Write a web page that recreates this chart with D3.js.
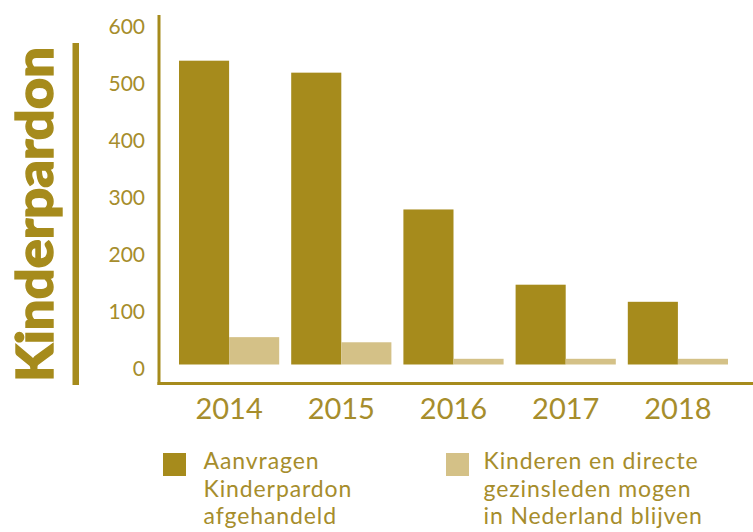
<!DOCTYPE html>
<html>
<head>
<meta charset="utf-8">
<script src="https://cdn.jsdelivr.net/npm/d3@7/dist/d3.min.js"></script>
<style>
  html, body { margin: 0; padding: 0; background: #ffffff; }
  svg { display: block; }
</style>
</head>
<body>
<svg id="chart" width="753" height="532"></svg>
<script>
// ---- data ----
const years = ["2014", "2015", "2016", "2017", "2018"];
const aanvragen = [533, 512, 272, 140, 110];
const blijven = [48, 39, 10, 10, 10];
const yTicks = [0, 100, 200, 300, 400, 500, 600];
const seriesNames = ["Aanvragen|Kinderpardon|afgehandeld", "Kinderen en directe|gezinsleden mogen|in Nederland blijven"];
const title = "Kinderpardon";

// ---- style ----
const darkCol = "#a68b1c";
const lightCol = "#d4c187";
const textCol = "#a68d2c";
const font = "Lato, 'Noto Sans', sans-serif";

const svg = d3.select("#chart");

const x0 = d3.scaleBand().domain(years).range([173, 734]).paddingInner(0.107).paddingOuter(0.0535);
const x1 = d3.scaleBand().domain([0, 1]).range([0, x0.bandwidth()]);
const y = d3.scaleLinear().domain([0, 600]).range([364.5, 22.5]);

// bars
const groups = svg.append("g").selectAll("g").data(years).join("g")
  .attr("transform", d => `translate(${x0(d)},0)`);
groups.append("rect")
  .attr("x", x1(0)).attr("width", x1.bandwidth())
  .attr("y", (d, i) => y(aanvragen[i])).attr("height", (d, i) => y(0) - y(aanvragen[i]))
  .attr("fill", darkCol);
groups.append("rect")
  .attr("x", x1(1)).attr("width", x1.bandwidth())
  .attr("y", (d, i) => y(blijven[i])).attr("height", (d, i) => y(0) - y(blijven[i]))
  .attr("fill", lightCol);

// axis lines
svg.append("line").attr("x1", 159).attr("x2", 159).attr("y1", 15).attr("y2", 385)
  .attr("stroke", darkCol).attr("stroke-width", 3);
svg.append("line").attr("x1", 157.5).attr("x2", 753).attr("y1", 383.5).attr("y2", 383.5)
  .attr("stroke", darkCol).attr("stroke-width", 3);

// y axis labels
const yAxis = svg.append("g").attr("transform", "translate(159,0)")
  .call(d3.axisLeft(y).tickValues(yTicks).tickSize(0).tickPadding(14));
yAxis.select(".domain").remove();
yAxis.selectAll("text").attr("dy", "0.5em")
  .style("font-family", font).style("font-size", "21px").attr("fill", textCol);

// x axis labels
const xAxis = svg.append("g").attr("transform", "translate(0,383.5)")
  .call(d3.axisBottom(x0).tickSize(0).tickPadding(15));
xAxis.select(".domain").remove();
xAxis.selectAll("text")
  .style("font-family", font).style("font-size", "29px").attr("fill", textCol);

// title
svg.append("text")
  .attr("transform", "translate(53,382) rotate(-90)")
  .attr("text-anchor", "start")
  .attr("textLength", 335).attr("lengthAdjust", "spacingAndGlyphs")
  .style("font-family", font).style("font-weight", "900").style("font-size", "51px")
  .attr("fill", darkCol).attr("stroke", darkCol).attr("stroke-width", 1.4)
  .text(title);
svg.append("rect").attr("x", 72.5).attr("y", 43).attr("width", 6.5).attr("height", 342).attr("fill", darkCol);

// legend
const legendX = [163, 446];
const legendCols = [darkCol, lightCol];
seriesNames.forEach((name, i) => {
  const g = svg.append("g").attr("transform", `translate(${legendX[i]},453)`);
  g.append("rect").attr("width", 23).attr("height", 23).attr("fill", legendCols[i]);
  const tx = i === 0 ? 40.5 : 37.5;
  const t = g.append("text").attr("x", tx).attr("y", 16)
    .style("font-family", font).style("font-size", "23px").style("letter-spacing", "0.9px")
    .attr("fill", textCol);
  name.split("|").forEach((line, j) => {
    t.append("tspan").attr("x", tx).attr("y", 16 + j * 27.5).text(line);
  });
});
</script>
</body>
</html>
